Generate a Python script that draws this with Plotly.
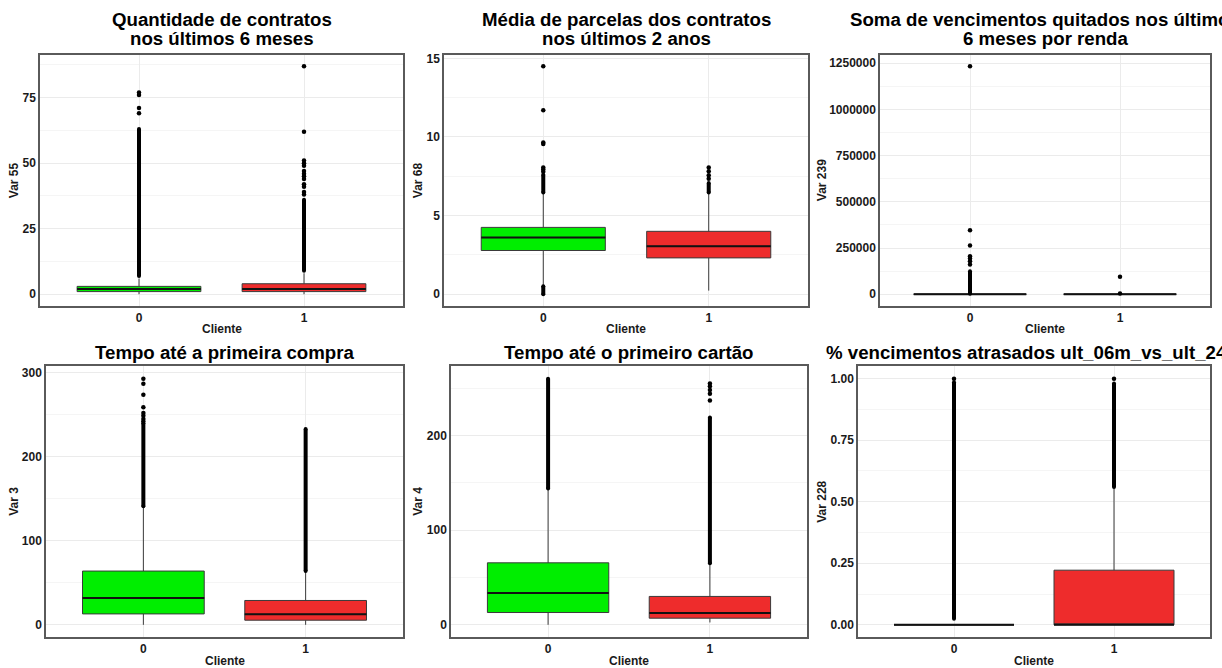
import plotly.graph_objects as go

W, H = 1222, 668

# --- categories ---------------------------------------------------------
clientes = ["0", "1"]
posicoes = [0, 1]

# --- Var 55: quantidade de contratos nos últimos 6 meses -----------------
v55_q1 = [1, 1]
v55_mediana = [2, 2]
v55_q3 = [3, 4]
v55_limite_inf = [0, 0]
v55_limite_sup = [6, 8]
v55_faixa_outliers = [[7, 63], [9, 36]]          # dense runs of outliers (low, high)
v55_outliers = [[69, 71, 76, 77],
                [38, 39, 41, 42, 44, 45, 46, 47, 49, 50, 51, 62, 87]]

# --- Var 68: média de parcelas dos contratos nos últimos 2 anos ----------
v68_q1 = [2.78, 2.31]
v68_mediana = [3.60, 3.05]
v68_q3 = [4.25, 4.00]
v68_limite_inf = [0.58, 0.23]
v68_limite_sup = [6.44, 6.44]
v68_faixa_outliers = [[6.47, 7.6], [6.47, 7.08]]
v68_faixa_outliers_baixo = [[0.0, 0.5], None]
v68_outliers = [[7.78, 7.93, 8.05, 9.55, 9.65, 11.7, 14.5],
                [7.35, 7.56, 7.82, 8.05]]

# --- Var 239: soma de vencimentos quitados / renda -----------------------
v239_q1 = [0, 0]
v239_mediana = [0, 0]
v239_q3 = [0, 0]
v239_limite_inf = [0, 0]
v239_limite_sup = [0, 0]
v239_faixa_outliers = [[3000, 125000], None]
v239_outliers = [[161000, 179000, 194000, 206000, 264000, 346000, 1234000],
                 [3500, 95000]]

# --- Var 3: tempo até a primeira compra ----------------------------------
v3_q1 = [13, 5.5]
v3_mediana = [32, 12.5]
v3_q3 = [64, 29]
v3_limite_inf = [0, 0]
v3_limite_sup = [140, 63]
v3_faixa_outliers = [[141, 240], [64, 233]]
v3_outliers = [[242, 245, 249, 252, 259, 274, 287, 293], []]

# --- Var 4: tempo até o primeiro cartão ----------------------------------
v4_q1 = [13, 7]
v4_mediana = [33.5, 12.5]
v4_q3 = [65.5, 30]
v4_limite_inf = [0, 2.5]
v4_limite_sup = [143, 64.5]
v4_faixa_outliers = [[144, 260], [65, 219]]
v4_outliers = [[], [237, 244, 248, 252, 255]]

# --- Var 228: % vencimentos atrasados ult_06m vs ult_24m -----------------
v228_q1 = [0, 0]
v228_mediana = [0, 0]
v228_q3 = [0, 0.222]
v228_limite_inf = [0, 0]
v228_limite_sup = [0, 0.555]
v228_faixa_outliers = [[0.025, 0.985], [0.56, 0.98]]
v228_outliers = [[1.0], [1.0]]

# --- panel definitions ----------------------------------------------------
paineis = [
    dict(titulo=["Quantidade de contratos", "nos últimos 6 meses"], ylabel="Var 55",
         q1=v55_q1, med=v55_mediana, q3=v55_q3, lo=v55_limite_inf, hi=v55_limite_sup,
         faixas=[v55_faixa_outliers], out=v55_outliers,
         ticks=[0, 25, 50, 75], minor=[12.5, 37.5, 62.5, 87.5], fmt=None,
         caixa=(40, 52, 403, 304), ytit_x=14),
    dict(titulo=["Média de parcelas dos contratos", "nos últimos 2 anos"], ylabel="Var 68",
         q1=v68_q1, med=v68_mediana, q3=v68_q3, lo=v68_limite_inf, hi=v68_limite_sup,
         faixas=[v68_faixa_outliers, v68_faixa_outliers_baixo], out=v68_outliers,
         ticks=[0, 5, 10, 15], minor=[2.5, 7.5, 12.5], fmt=None,
         caixa=(444, 52, 808, 304), ytit_x=418),
    dict(titulo=["Soma de vencimentos quitados nos últimos", "6 meses por renda"], ylabel="Var 239",
         q1=v239_q1, med=v239_mediana, q3=v239_q3, lo=v239_limite_inf, hi=v239_limite_sup,
         faixas=[v239_faixa_outliers], out=v239_outliers,
         ticks=[0, 250000, 500000, 750000, 1000000, 1250000],
         minor=[125000, 375000, 625000, 875000, 1125000], fmt="d",
         caixa=(880, 52, 1210, 304), ytit_x=822),
    dict(titulo=["Tempo até a primeira compra"], ylabel="Var 3",
         q1=v3_q1, med=v3_mediana, q3=v3_q3, lo=v3_limite_inf, hi=v3_limite_sup,
         faixas=[v3_faixa_outliers], out=v3_outliers,
         ticks=[0, 100, 200, 300], minor=[50, 150, 250], fmt=None,
         caixa=(46, 365, 403, 637), ytit_x=14),
    dict(titulo=["Tempo até o primeiro cartão"], ylabel="Var 4",
         q1=v4_q1, med=v4_mediana, q3=v4_q3, lo=v4_limite_inf, hi=v4_limite_sup,
         faixas=[v4_faixa_outliers], out=v4_outliers,
         ticks=[0, 100, 200], minor=[50, 150, 250], fmt=None,
         caixa=(451, 365, 807, 637), ytit_x=418),
    dict(titulo=["% vencimentos atrasados ult_06m_vs_ult_24m"], ylabel="Var 228",
         q1=v228_q1, med=v228_mediana, q3=v228_q3, lo=v228_limite_inf, hi=v228_limite_sup,
         faixas=[v228_faixa_outliers], out=v228_outliers,
         ticks=[0, 0.25, 0.5, 0.75, 1.0], minor=[0.125, 0.375, 0.625, 0.875], fmt=".2f",
         caixa=(858, 365, 1210, 637), ytit_x=822),
]

cores = ["#00EE00", "#EE2C2C"]
FONTE = "Liberation Sans, Arial, sans-serif"
TXT = "#1a1a1a"
LARGURA = 0.75

fig = go.Figure()
anotacoes = []
layout = {}

for i, p in enumerate(paineis):
    n = "" if i == 0 else str(i + 1)
    xr, yr = "x" + n, "y" + n

    valores = []
    for g, pos in enumerate(posicoes):
        fig.add_trace(go.Box(
            x=[pos], q1=[p["q1"][g]], median=[p["med"][g]], q3=[p["q3"][g]],
            lowerfence=[p["lo"][g]], upperfence=[p["hi"][g]],
            width=LARGURA, whiskerwidth=0, boxpoints=False,
            fillcolor=cores[g], line=dict(color="#3a3a3a", width=1),
            xaxis=xr, yaxis=yr, hoverinfo="skip", showlegend=False))
        fig.add_trace(go.Scatter(
            x=[pos - LARGURA / 2, pos + LARGURA / 2], y=[p["med"][g]] * 2,
            mode="lines", line=dict(color="#111111", width=2),
            xaxis=xr, yaxis=yr, hoverinfo="skip", showlegend=False))
        valores += [p["lo"][g], p["hi"][g]]
        for faixa in p["faixas"]:
            f = faixa[g]
            if f is None:
                continue
            valores += f
            fig.add_trace(go.Scatter(
                x=[pos, pos], y=f, mode="lines+markers",
                line=dict(color="black", width=4), marker=dict(color="black", size=4),
                xaxis=xr, yaxis=yr, hoverinfo="skip", showlegend=False))
        if p["out"][g]:
            valores += p["out"][g]
            fig.add_trace(go.Scatter(
                x=[pos] * len(p["out"][g]), y=p["out"][g], mode="markers",
                marker=dict(color="black", size=4.5),
                xaxis=xr, yaxis=yr, hoverinfo="skip", showlegend=False))

    vmin, vmax = min(valores), max(valores)
    pad = 0.05 * (vmax - vmin)
    x0, y0, x1, y1 = p["caixa"]

    eixo_y = dict(
        domain=[1 - y1 / H, 1 - y0 / H], anchor=xr, range=[vmin - pad, vmax + pad],
        tickvals=p["ticks"], showgrid=True, gridcolor="#EBEBEB", gridwidth=1,
        minor=dict(tickvals=p["minor"], showgrid=True, gridcolor="#F5F5F5", gridwidth=1),
        zeroline=False, showline=True, mirror=True, linecolor="#5a5a5a", linewidth=1.5,
        ticks="", tickfont=dict(family=FONTE, size=12, color=TXT, weight="bold"))
    if p["fmt"]:
        eixo_y["tickformat"] = p["fmt"]
    layout["yaxis" + n] = eixo_y
    layout["xaxis" + n] = dict(
        domain=[x0 / W, x1 / W], anchor=yr, range=[-0.6, 1.6],
        tickvals=posicoes, ticktext=clientes, showgrid=True, gridcolor="#EBEBEB",
        zeroline=False, showline=True, mirror=True, linecolor="#5a5a5a", linewidth=1.5,
        ticks="", tickfont=dict(family=FONTE, size=12, color=TXT, weight="bold"))

    cx = (x0 + x1) / 2
    # plot title (one annotation per line)
    if len(p["titulo"]) == 2:
        linhas_y = [y0 - 35, y0 - 16]
    else:
        linhas_y = [y0 - 14]
    for linha, ly in zip(p["titulo"], linhas_y):
        anotacoes.append(dict(
            text=linha, x=cx / W, y=1 - ly / H, xref="paper", yref="paper",
            xanchor="center", yanchor="middle", showarrow=False,
            font=dict(family=FONTE, size=18.67, color="#000000", weight="bold")))
    # x-axis title
    anotacoes.append(dict(
        text="Cliente", x=cx / W, y=1 - (y1 + 23.5) / H, xref="paper", yref="paper",
        xanchor="center", yanchor="middle", showarrow=False,
        font=dict(family=FONTE, size=12, color=TXT, weight="bold")))
    # y-axis title
    anotacoes.append(dict(
        text=p["ylabel"], x=p["ytit_x"] / W, y=1 - ((y0 + y1) / 2) / H,
        xref="paper", yref="paper", xanchor="center", yanchor="middle",
        textangle=-90, showarrow=False,
        font=dict(family=FONTE, size=12, color=TXT, weight="bold")))

fig.update_layout(
    width=W, height=H, margin=dict(l=0, r=0, t=0, b=0),
    paper_bgcolor="white", plot_bgcolor="white", showlegend=False,
    boxmode="overlay", annotations=anotacoes, **layout)

fig.write_html("out.html")
